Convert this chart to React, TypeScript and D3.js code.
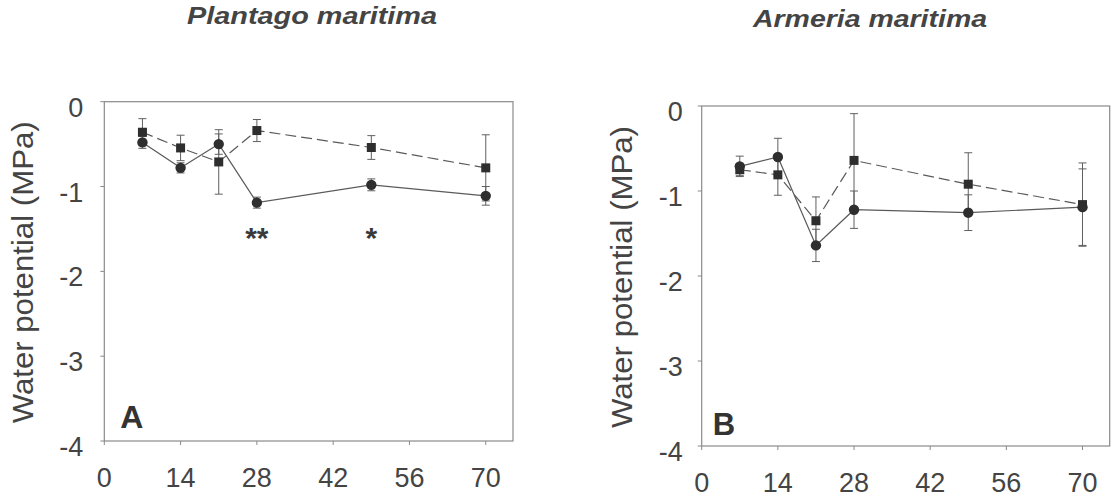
import React from "react";
import * as d3 from "d3";

const days = [7, 14, 21, 28, 49, 70];
const xTicks = [0, 14, 28, 42, 56, 70];
const yTicks = [0, -1, -2, -3, -4];

const plantagoCircle = [-0.48, -0.78, -0.5, -1.19, -0.98, -1.11];
const plantagoCircleErr = [0.07, 0.06, 0.12, 0.065, 0.07, 0.11];
const plantagoSquare = [-0.36, -0.545, -0.71, -0.34, -0.54, -0.78];
const plantagoSquareErr = [0.16, 0.15, 0.38, 0.13, 0.14, 0.39];

const armeriaCircle = [-0.71, -0.6, -1.64, -1.22, -1.255, -1.19];
const armeriaCircleErr = [0.12, 0.22, 0.19, 0.22, 0.21, 0.45];
const armeriaSquare = [-0.75, -0.81, -1.35, -0.64, -0.92, -1.16];
const armeriaSquareErr = [0.07, 0.24, 0.28, 0.55, 0.37, 0.49];

const plantagoSig = [
  { day: 28, label: "**" },
  { day: 49, label: "*" },
];
const sigLevel = -1.73;

const titles = ["Plantago maritima", "Armeria maritima"];
const yLabel = "Water potential (MPa)";
const panelLetters = ["A", "B"];

const FONT = "'Liberation Sans', Arial, sans-serif";

type PanelProps = {
  left: number;
  right: number;
  top: number;
  bottom: number;
  circle: number[];
  circleErr: number[];
  square: number[];
  squareErr: number[];
  sig: { day: number; label: string }[];
  title: string;
  titleX: number;
  titleY: number;
  titleLen: number;
  letter: string;
  letterDx: number;
  letterDy: number;
  letterSize: number;
  ylabelX: number;
  yTickGap: number;
};

function Panel(p: PanelProps) {
  const x = d3.scaleLinear().domain([0, 75]).range([p.left, p.right]);
  const y = d3.scaleLinear().domain([-4, 0]).range([p.bottom, p.top]);
  const line = d3
    .line<number>()
    .x((_, i) => x(days[i]))
    .y((v) => y(v));
  const lineColor = "#5a5a5a";
  const markColor = "#2e2e2e";
  const cap = 4;

  const errBars = (vals: number[], errs: number[], key: string) =>
    vals.map((v, i) => {
      const cx = x(days[i]);
      const y1 = y(v + errs[i]);
      const y2 = y(v - errs[i]);
      return (
        <g key={key + i} stroke="#606060" strokeWidth={1}>
          <line x1={cx} x2={cx} y1={y1} y2={y2} />
          <line x1={cx - cap} x2={cx + cap} y1={y1} y2={y1} />
          <line x1={cx - cap} x2={cx + cap} y1={y2} y2={y2} />
        </g>
      );
    });

  return (
    <g>
      <text
        x={p.titleX}
        y={p.titleY}
        textAnchor="middle"
        fontFamily={FONT}
        fontWeight="bold"
        fontStyle="italic"
        fontSize={24}
        fill="#444"
        textLength={p.titleLen}
        lengthAdjust="spacingAndGlyphs"
      >
        {p.title}
      </text>
      <rect
        x={p.left}
        y={p.top}
        width={p.right - p.left}
        height={p.bottom - p.top}
        fill="none"
        stroke="#8a8a8a"
        strokeWidth={1.2}
      />
      {yTicks.map((t) => (
        <g key={"yt" + t}>
          <line x1={p.left - 4} x2={p.left} y1={y(t)} y2={y(t)} stroke="#8a8a8a" />
          <text
            x={p.left - p.yTickGap}
            y={y(t) + 15}
            textAnchor="end"
            fontFamily={FONT}
            fontSize={27}
            fill="#444"
          >
            {t}
          </text>
        </g>
      ))}
      {xTicks.map((t) => (
        <g key={"xt" + t}>
          <line x1={x(t)} x2={x(t)} y1={p.bottom} y2={p.bottom + 4} stroke="#8a8a8a" />
          <text
            x={x(t)}
            y={p.bottom + 46}
            textAnchor="middle"
            fontFamily={FONT}
            fontSize={27}
            fill="#444"
          >
            {t}
          </text>
        </g>
      ))}
      <text
        transform={`translate(${p.ylabelX},${(p.top + p.bottom) / 2 + 1}) rotate(-90)`}
        textAnchor="middle"
        fontFamily={FONT}
        fontSize={29}
        fill="#444"
        textLength={302}
        lengthAdjust="spacingAndGlyphs"
      >
        {yLabel}
      </text>
      {errBars(p.square, p.squareErr, "se")}
      {errBars(p.circle, p.circleErr, "ce")}
      <path
        d={line(p.square) || ""}
        fill="none"
        stroke={lineColor}
        strokeWidth={1.2}
        strokeDasharray="11,5"
      />
      <path d={line(p.circle) || ""} fill="none" stroke={lineColor} strokeWidth={1.2} />
      {p.square.map((v, i) => (
        <rect
          key={"sq" + i}
          x={x(days[i]) - 4.5}
          y={y(v) - 4.5}
          width={9}
          height={9}
          fill={markColor}
        />
      ))}
      {p.circle.map((v, i) => (
        <circle key={"ci" + i} cx={x(days[i])} cy={y(v)} r={5.2} fill={markColor} />
      ))}
      {p.sig.map((s) => (
        <text
          key={"sig" + s.day}
          x={x(s.day)}
          y={y(sigLevel)}
          textAnchor="middle"
          fontFamily={FONT}
          fontWeight="bold"
          fontSize={30}
          fill="#3a3a3a"
        >
          {s.label}
        </text>
      ))}
      <text
        x={p.left + p.letterDx}
        y={p.bottom - p.letterDy}
        fontFamily={FONT}
        fontWeight="bold"
        fontSize={p.letterSize}
        fill="#333"
      >
        {p.letter}
      </text>
    </g>
  );
}

export default function App() {
  return (
    <svg
      width={1113}
      height={497}
      style={{ position: "absolute", left: 0, top: 0, background: "#fff" }}
    >
      <rect x={0} y={0} width={1113} height={497} fill="#fff" />
      <Panel
        left={104.3}
        right={513}
        top={101.7}
        bottom={441}
        circle={plantagoCircle}
        circleErr={plantagoCircleErr}
        square={plantagoSquare}
        squareErr={plantagoSquareErr}
        sig={plantagoSig}
        title={titles[0]}
        titleX={312}
        titleY={24}
        titleLen={250}
        letter={panelLetters[0]}
        letterDx={16}
        letterDy={13}
        letterSize={32}
        ylabelX={33}
        yTickGap={21}
      />
      <Panel
        left={701.7}
        right={1109.7}
        top={106}
        bottom={446}
        circle={armeriaCircle}
        circleErr={armeriaCircleErr}
        square={armeriaSquare}
        squareErr={armeriaSquareErr}
        sig={[]}
        title={titles[1]}
        titleX={870}
        titleY={27}
        titleLen={234}
        letter={panelLetters[1]}
        letterDx={11}
        letterDy={11}
        letterSize={31}
        ylabelX={632}
        yTickGap={19}
      />
    </svg>
  );
}
